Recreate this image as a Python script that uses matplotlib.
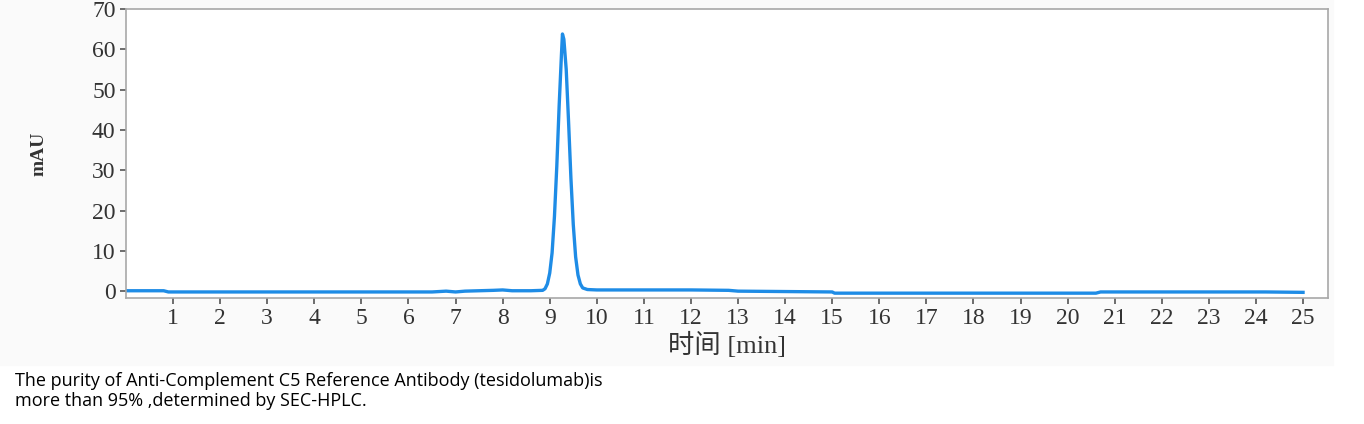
import matplotlib.pyplot as plt
from matplotlib.patches import Rectangle

# chromatogram trace (time in min, signal in mAU)
times = [0.0, 0.8, 0.9, 1.0, 3.0, 6.5, 6.8, 7.0, 7.2, 7.8, 8.0, 8.2, 8.6, 8.85,
         8.90, 8.95, 9.00, 9.05, 9.10, 9.15, 9.20, 9.25, 9.27, 9.30, 9.35, 9.40,
         9.45, 9.50, 9.55, 9.60, 9.65, 9.70, 9.80, 10.0, 12.0, 12.8, 13.0,
         15.0, 15.05, 18.0, 20.6, 20.7, 24.2, 25.0]
signal = [0.1, 0.1, -0.2, -0.2, -0.2, -0.2, 0.0, -0.2, 0.0, 0.2, 0.3, 0.1, 0.1, 0.2,
          0.6, 1.8, 4.5, 9.5, 18.5, 31.0, 46.0, 59.0, 63.8, 62.5, 55.0, 42.0,
          28.0, 16.5, 8.5, 4.0, 1.8, 0.8, 0.4, 0.3, 0.3, 0.2, 0.0,
          -0.2, -0.5, -0.5, -0.5, -0.2, -0.2, -0.3]
xticks = list(range(1, 26))
yticks = list(range(0, 71, 10))
caption = ("The purity of Anti-Complement C5 Reference Antibody (tesidolumab)is\n"
           "more than 95% ,determined by SEC-HPLC.")

serif = ['Liberation Serif', 'Noto Sans CJK SC']

fig = plt.figure(figsize=(13.64, 4.24), dpi=100)
fig.patches.append(Rectangle((0, 1 - 365 / 424), 1333 / 1364, 365 / 424,
                             transform=fig.transFigure, color='#fafafa', zorder=-1))
ax = fig.add_axes([126 / 1364, 1 - 298 / 424, 1202 / 1364, 289 / 424])
ax.plot(times, signal, color='#1e8ce6', lw=2.4)
ax.set_xlim(0, 25.53)
ax.set_ylim(-1.7, 70)
ax.set_xticks(xticks)
ax.set_yticks(yticks)
for s in ax.spines.values():
    s.set_color('#a8a8a8')
    s.set_linewidth(1.2)
ax.tick_params(colors='#555555', labelcolor='#333333', length=4, width=1.2,
               labelsize=17)
for lab in ax.get_xticklabels() + ax.get_yticklabels():
    lab.set_family(serif)
ax.set_xlabel('时间 [min]', family=serif, fontsize=19, color='#333333', labelpad=2)
ax.set_ylabel('mAU', family=serif, fontsize=14, fontweight='bold', color='#333333',
              labelpad=32)

fig.text(15 / 1364, 1 - 372 / 424, caption, family='Open Sans', fontsize=13,
         va='top', ha='left', linespacing=1.15, color='black')

fig.savefig('out.png', dpi=100)
